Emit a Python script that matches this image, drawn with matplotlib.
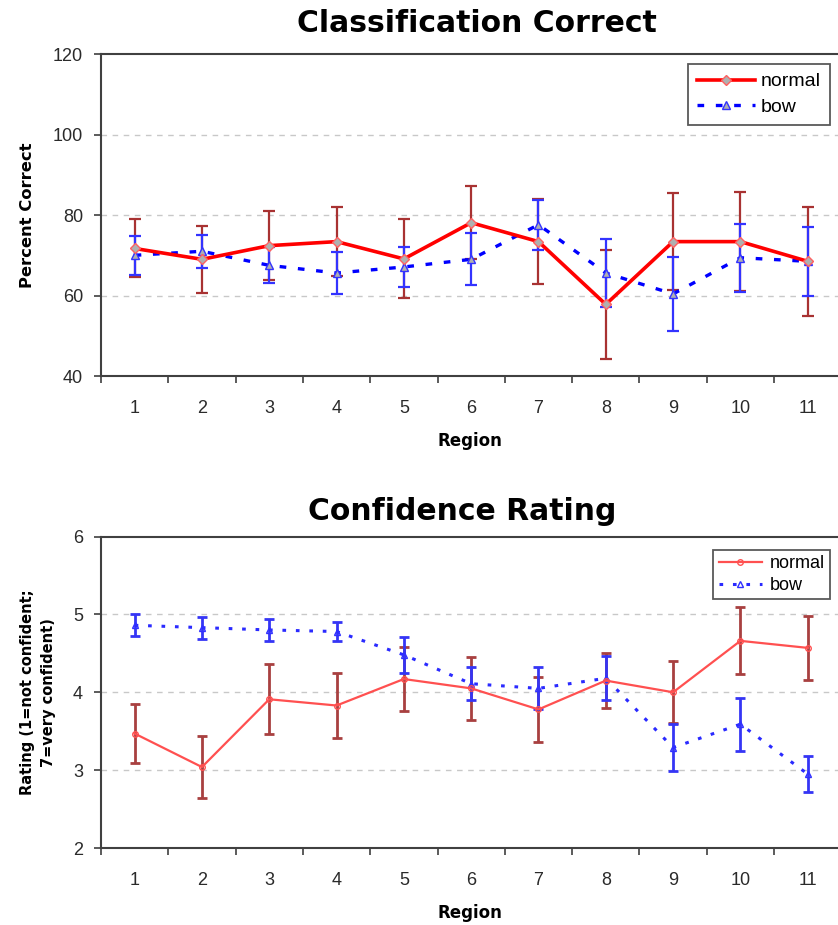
import matplotlib
matplotlib.use("Agg")
import matplotlib.pyplot as plt
import numpy as np

plt.rcParams["font.family"] = ["Liberation Sans", "DejaVu Sans"]

regions = [1, 2, 3, 4, 5, 6, 7, 8, 9, 10, 11]
tick_labels = [str(r) for r in regions]

# Classification Correct (percent)
cls_normal = [71.7, 69.0, 72.4, 73.4, 69.1, 78.1, 73.4, 57.8, 73.4, 73.4, 68.5]
cls_normal_err = [7.2, 8.4, 8.5, 8.5, 9.8, 9.0, 10.6, 13.5, 12.0, 12.3, 13.5]
cls_bow = [70.0, 71.0, 67.5, 65.6, 67.1, 69.0, 77.6, 65.6, 60.4, 69.4, 68.5]
cls_bow_err = [4.8, 4.1, 4.5, 5.3, 5.0, 6.5, 6.2, 8.5, 9.2, 8.5, 8.5]

# Confidence Rating (1-7)
conf_normal = [3.47, 3.04, 3.91, 3.83, 4.17, 4.05, 3.78, 4.15, 4.00, 4.66, 4.57]
conf_normal_err = [0.38, 0.40, 0.45, 0.42, 0.41, 0.40, 0.42, 0.35, 0.40, 0.43, 0.41]
conf_bow = [4.86, 4.83, 4.80, 4.78, 4.48, 4.11, 4.05, 4.18, 3.29, 3.59, 2.95]
conf_bow_err = [0.14, 0.14, 0.14, 0.12, 0.23, 0.21, 0.27, 0.28, 0.30, 0.34, 0.23]

SPINE = "#404040"
TXT = "#2a2a2a"
BOLD = dict(fontweight="bold", family="DejaVu Sans")


def style_axes(ax, ylim, yticks):
    ax.set_xlim(0.5, 11.45)
    ax.set_ylim(*ylim)
    ax.set_yticks(yticks)
    ax.set_xticks(np.arange(0.5, 11.5, 1.0))
    ax.set_xticklabels([])
    ax.set_xticks(regions, minor=True)
    ax.set_xticklabels(tick_labels, minor=True)
    ax.tick_params(axis="x", which="major", length=5, width=1.2, color=SPINE, direction="out")
    ax.tick_params(axis="x", which="minor", length=0, pad=17, labelsize=13, labelcolor=TXT)
    ax.tick_params(axis="y", length=5, width=1.2, color=SPINE, pad=8, labelsize=13,
                   labelcolor=TXT)
    for s in ("left", "bottom", "top"):
        ax.spines[s].set_color(SPINE)
        ax.spines[s].set_linewidth(1.5)
    ax.spines["right"].set_visible(False)
    for y in yticks[1:-1]:
        ax.axhline(y, color="#c8c8c8", lw=1.0, ls=(0, (4, 4)), zorder=0)
    ax.set_xlabel("Region", fontsize=12, labelpad=11, **BOLD)


fig = plt.figure(figsize=(8.38, 9.25), dpi=100)
ax1 = fig.add_axes([0.1205, 0.5935, 0.8795, 0.348])
ax2 = fig.add_axes([0.1205, 0.0832, 0.8795, 0.3368])

# ---- top chart ----
ax1.errorbar(regions, cls_normal, yerr=cls_normal_err, fmt="none", ecolor="#a83232",
             elinewidth=1.6, capsize=4.5, capthick=1.6, zorder=2)
ax1.errorbar(regions, cls_bow, yerr=cls_bow_err, fmt="none", ecolor="#3333ff",
             elinewidth=1.6, capsize=4.5, capthick=1.6, zorder=3)
ax1.plot(regions, cls_bow, color="#0000ff", lw=2.4, ls=(0, (2, 3.5)), marker="^", ms=6,
         mfc="#b0b0b0", mec="#3333ff", mew=1.0, label="bow", zorder=4)
ax1.plot(regions, cls_normal, color="#ff0000", lw=2.6, marker="D", ms=5,
         mfc="#b0b0b0", mec="#ff6060", mew=1.0, label="normal", zorder=5)
style_axes(ax1, (40, 120), [40, 60, 80, 100, 120])
ax1.set_ylabel("Percent Correct", fontsize=11.8, labelpad=13, **BOLD)
h, l = ax1.get_legend_handles_labels()
leg1 = ax1.legend(h[::-1], l[::-1], loc="upper right", bbox_to_anchor=(0.989, 0.969),
                  borderaxespad=0, fontsize=14, frameon=True, fancybox=False,
                  handlelength=3.0, borderpad=0.45, labelspacing=0.4, handletextpad=0.3)
leg1.get_frame().set_edgecolor("#303030")
leg1.get_frame().set_linewidth(1.3)
fig.text(0.569, 0.975, "Classification Correct", ha="center", va="center",
         fontsize=21.5, **BOLD)

# ---- bottom chart ----
ax2.errorbar(regions, conf_normal, yerr=conf_normal_err, fmt="none", ecolor="#a84040",
             elinewidth=2.0, capsize=3.5, capthick=2.0, zorder=2)
ax2.errorbar(regions, conf_bow, yerr=conf_bow_err, fmt="none", ecolor="#3535f5",
             elinewidth=2.0, capsize=3.5, capthick=2.0, zorder=3)
ax2.plot(regions, conf_bow, color="#2a2aff", lw=2.2, ls=(0, (1.2, 3.2)), marker="^", ms=5,
         mfc="none", mec="#3030ff", mew=1.0, label="bow", zorder=4)
ax2.plot(regions, conf_normal, color="#ff5050", lw=1.6, marker="o", ms=4,
         mfc="none", mec="#ff5050", mew=1.0, label="normal", zorder=5)
style_axes(ax2, (2, 6), [2, 3, 4, 5, 6])
ax2.set_ylabel("Rating (1=not confident;\n7=very confident)", fontsize=10.5,
               labelpad=12, linespacing=1.55, **BOLD)
h, l = ax2.get_legend_handles_labels()
leg2 = ax2.legend(h[::-1], l[::-1], loc="upper right", bbox_to_anchor=(0.989, 0.957),
                  borderaxespad=0, fontsize=13, frameon=True, fancybox=False,
                  handlelength=2.4, borderpad=0.3, labelspacing=0.25, handletextpad=0.4)
leg2.get_frame().set_edgecolor("#303030")
leg2.get_frame().set_linewidth(1.3)
fig.text(0.551, 0.447, "Confidence Rating", ha="center", va="center",
         fontsize=21.5, **BOLD)

fig.savefig("out.png", dpi=100)
